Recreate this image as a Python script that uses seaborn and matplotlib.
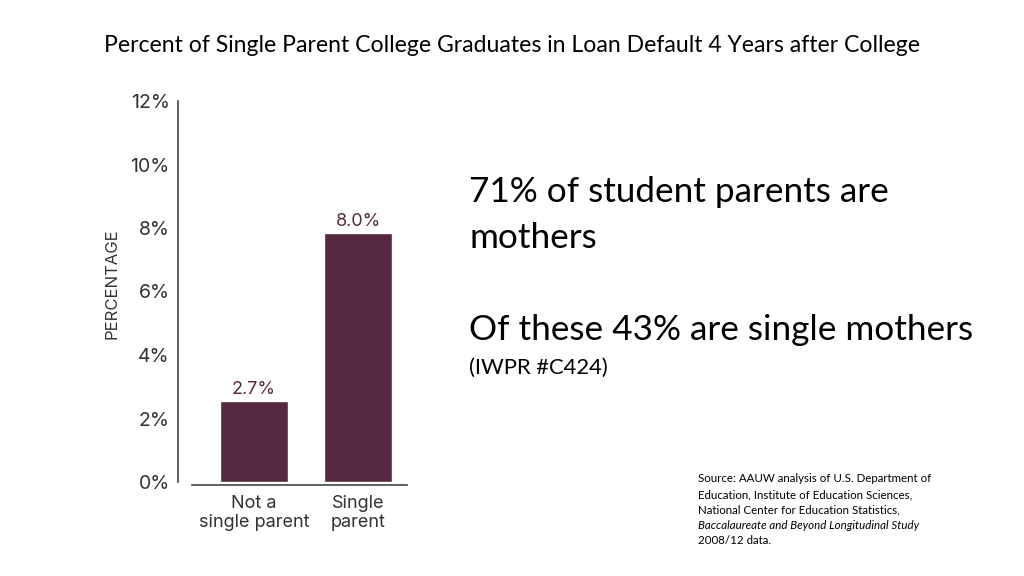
import matplotlib
matplotlib.use("Agg")
import matplotlib.pyplot as plt
import seaborn as sns
import pandas as pd

# Chart data
categories = ["Not a\nsingle parent", "Single\nparent"]
bar_heights = [2.55, 7.85]
bar_labels = ["2.7%", "8.0%"]
y_ticks = [0, 2, 4, 6, 8, 10, 12]
y_tick_labels = ["0%", "2%", "4%", "6%", "8%", "10%", "12%"]

title = "Percent of Single Parent College Graduates in Loan Default 4 Years after College"
note_1 = "71% of student parents are\nmothers"
note_2 = "Of these 43% are single mothers"
note_3 = "(IWPR #C424)"
source_lines = [
    "Source: AAUW analysis of U.S. Department of",
    "Education, Institute of Education Sciences,",
    "National Center for Education Statistics,",
]
source_italic = "Baccalaureate and Beyond Longitudinal Study"
source_last = "2008/12 data."

bar_color = "#552840"
text_color = "#333333"

sns.set_style("white")
plt.rcParams["font.family"] = ["Lato", "DejaVu Sans"]

df = pd.DataFrame({"group": categories, "value": bar_heights})

fig = plt.figure(figsize=(10.24, 5.76), dpi=100)
ax = fig.add_axes([178 / 1024, 1 - 482 / 576, (407 - 178) / 1024, (482 - 101) / 576])

sns.barplot(data=df, x="group", y="value", color=bar_color, saturation=1,
            width=0.65, ax=ax)

# value labels above bars
for i, lab in enumerate(bar_labels):
    ax.text(i, bar_heights[i] + 0.1, lab, ha="center", va="bottom",
            fontsize=13, color=bar_color, family="Inter")

ax.set_xlim(-0.73, 1.47)
ax.set_ylim(0, 12)
ax.set_yticks(y_ticks)
ax.set_yticklabels(y_tick_labels)
ax.set_xticks(range(len(categories)))
ax.set_xticklabels(categories)
ax.set_xlabel("")
ax.set_ylabel("PERCENTAGE", family="Inter", fontsize=12, color=text_color)
ax.yaxis.set_label_coords(-0.255, 0.52)

ax.tick_params(axis="y", direction="in", length=9, width=1.2, color="#444444", pad=6,
               labelsize=14, labelcolor=text_color, labelfontfamily="Inter")
ax.tick_params(axis="x", which="major", length=0, pad=7,
               labelsize=13, labelcolor=text_color, labelfontfamily="Inter")
ax.set_xticks([0.5], minor=True)
ax.tick_params(axis="x", which="minor", direction="in", length=6, width=1.2, color="#444444")

for t in ax.get_xticklabels():
    t.set_linespacing(1.1)

for side in ["top", "right"]:
    ax.spines[side].set_visible(False)
ax.spines["left"].set_color("#444444")
ax.spines["left"].set_linewidth(1.2)
ax.spines["bottom"].set_color("#444444")
ax.spines["bottom"].set_linewidth(1.2)
ax.spines["bottom"].set_bounds(-0.6, 1.47)
ax.spines["bottom"].set_position(("outward", 2))

# Title and side text
fig.text(512 / 1024, 1 - 45 / 576, title, ha="center", va="center",
         fontsize=16.6, color="black")
fig.text(469 / 1024, 1 - 215 / 576, note_1, ha="left", va="center",
         fontsize=25.3, color="black", linespacing=1.5)
fig.text(469 / 1024, 1 - 330 / 576, note_2, ha="left", va="center",
         fontsize=25.3, color="black")
fig.text(469 / 1024, 1 - 368 / 576, note_3, ha="left", va="center",
         fontsize=15.8, color="black")

y0 = 479
step = 15.5
for k, line in enumerate(source_lines):
    fig.text(698 / 1024, 1 - (y0 + k * step) / 576, line, ha="left", va="center",
             fontsize=8.3, color="black")
fig.text(698 / 1024, 1 - (y0 + 3 * step) / 576, source_italic, ha="left", va="center",
         fontsize=8.3, color="black", style="italic")
fig.text(698 / 1024, 1 - (y0 + 4 * step) / 576, source_last, ha="left", va="center",
         fontsize=8.3, color="black")

fig.savefig("out.png", dpi=100, facecolor="white")
